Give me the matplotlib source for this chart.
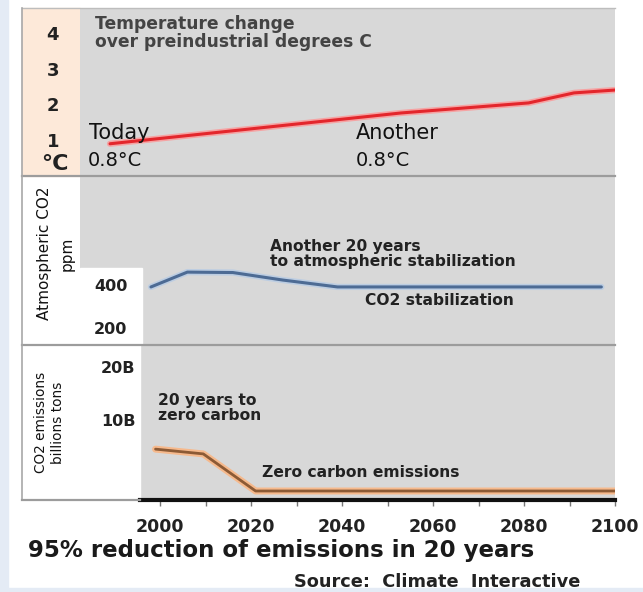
import matplotlib
matplotlib.use("Agg")
import matplotlib.pyplot as plt
from matplotlib.patches import Rectangle
from matplotlib.lines import Line2D

# values
temp_years = [1989, 2053, 2067, 2081, 2091, 2100]
temp_change = [0.9, 1.76, 1.9, 2.04, 2.32, 2.4]

co2_years = [1998, 2006, 2016, 2027, 2039, 2097]
co2_ppm = [391, 460, 458, 423, 391, 391]

emis_years = [1999, 2009.5, 2021, 2100]
emis_billion = [4.5, 3.6, -3.4, -3.4]

temp_ticks = [1, 2, 3, 4]
co2_ticks = [200, 400]
emis_ticks = [10, 20]
emis_ticklabels = ["10B", "20B"]
year_ticks = [2000, 2020, 2040, 2060, 2080, 2100]

W, H = 643, 592
GRAY = "#d8d8d8"
XLIM = (1982.4, 2100)


def box(x0, y0, x1, y1):
    # pixel box (from top-left) -> figure fraction rect
    return [x0 / W, 1 - y1 / H, (x1 - x0) / W, (y1 - y0) / H]


def style_ticklabels(labels, size):
    for lab in labels:
        lab.set_fontweight("bold")
        lab.set_fontsize(size)
        lab.set_color("#222222")


fig = plt.figure(figsize=(W / 100, H / 100), dpi=100, facecolor="white")

# light blue edge on the left and bottom of the screenshot
fig.patches.append(Rectangle((0, 0), 8 / W, 1, transform=fig.transFigure,
                             color="#e4ebf5", zorder=-1))
fig.patches.append(Rectangle((0, 0), 1, 4 / H, transform=fig.transFigure,
                             color="#e4ebf5", zorder=-1))
# peach strip behind the temperature scale
fig.patches.append(Rectangle((22 / W, 1 - 176 / H), 58 / W, 168 / H,
                             transform=fig.transFigure, color="#fde9d9", zorder=-1))

ax_t = fig.add_axes(box(80, 8, 615, 176), facecolor=GRAY)
ax_c = fig.add_axes(box(80, 176, 615, 345), facecolor=GRAY)
ax_e = fig.add_axes(box(80, 345, 615, 500), facecolor=GRAY)

for ax in (ax_t, ax_c, ax_e):
    ax.set_xlim(*XLIM)
    for s in ax.spines.values():
        s.set_visible(False)
    ax.tick_params(axis="y", length=0)
    ax.set_xticks([])

# --- temperature panel ---
ax_t.set_ylim(0, 4.69)
ax_t.plot(temp_years, temp_change, color="#f5a3a3", lw=4.5, solid_capstyle="round")
ax_t.plot(temp_years, temp_change, color="#e3262c", lw=2.2, solid_capstyle="round")
ax_t.set_yticks(temp_ticks)
ax_t.tick_params(axis="y", pad=15)
style_ticklabels(ax_t.get_yticklabels(), 13)
fig.text(55 / W, 1 - 164 / H, "°C", ha="center", va="center",
         fontsize=16, fontweight="bold", color="#222222")
ax_t.text(0.028, 0.96, "Temperature change\nover preindustrial degrees C",
          transform=ax_t.transAxes, ha="left", va="top", fontsize=12.3,
          fontweight="bold", color="#444444", linespacing=1.0)
ax_t.text(1984.4, 0.93, "Today", fontsize=15, color="#111111", ha="left", va="bottom")
ax_t.text(1984, 0.16, "0.8°C", fontsize=14, color="#111111", ha="left", va="bottom")
ax_t.text(2043, 0.93, "Another", fontsize=15, color="#111111", ha="left", va="bottom")
ax_t.text(2043, 0.16, "0.8°C", fontsize=14, color="#111111", ha="left", va="bottom")

# --- atmospheric CO2 panel ---
ax_c.set_ylim(121, 907)
ax_c.add_patch(Rectangle((0, 0), 62 / 535, 77 / 169, transform=ax_c.transAxes,
                         color="white", zorder=0.5))
ax_c.plot(co2_years, co2_ppm, color="#bccde2", lw=4.5, solid_capstyle="round")
ax_c.plot(co2_years, co2_ppm, color="#4d6b94", lw=2.2, solid_capstyle="round")
ax_c.set_yticks(co2_ticks)
ax_c.tick_params(axis="y", pad=-34)
style_ticklabels(ax_c.get_yticklabels(), 11.5)
ax_c.set_ylabel("Atmospheric CO2\nppm", fontsize=11, color="#111111", linespacing=1.6)
ax_c.yaxis.set_label_coords(-0.01, 0.54)
ax_c.text(2024.2, 544, "Another 20 years\nto atmospheric stabilization",
          fontsize=11.2, fontweight="bold", color="#222222", ha="left", va="center",
          linespacing=1.0)
ax_c.text(2045, 326, "CO2 stabilization", fontsize=11.2, fontweight="bold",
          color="#222222", ha="left", va="center")

# --- CO2 emissions panel ---
ax_e.set_ylim(-5.1, 24.15)
ax_e.add_patch(Rectangle((0, 0), 60 / 535, 1, transform=ax_e.transAxes,
                         color="white", zorder=0.5))
ax_e.plot(emis_years, emis_billion, color="#f6b98c", lw=5, solid_capstyle="round")
ax_e.plot(emis_years, emis_billion, color="#8c5a35", lw=2, solid_capstyle="round")
ax_e.set_yticks(emis_ticks, emis_ticklabels)
ax_e.tick_params(axis="y", pad=-40)
style_ticklabels(ax_e.get_yticklabels(), 11.5)
ax_e.set_ylabel("CO2 emissions\nbillions tons", fontsize=9.8, color="#111111", linespacing=1.3)
ax_e.yaxis.set_label_coords(-0.028, 0.5)
ax_e.text(1999.5, 12.3, "20 years to\nzero carbon", fontsize=11.2, fontweight="bold",
          color="#222222", ha="left", va="center", linespacing=1.0)
ax_e.text(2022.4, 0.0, "Zero carbon emissions", fontsize=11.2, fontweight="bold",
          color="#222222", ha="left", va="center")

ax_e.spines["bottom"].set_visible(True)
ax_e.spines["bottom"].set_color("#111111")
ax_e.spines["bottom"].set_linewidth(3)
ax_e.spines["bottom"].set_bounds(1995.6, 2100)
ax_e.set_xticks(year_ticks)
ax_e.set_xticks(range(2000, 2101, 10), minor=True)
ax_e.tick_params(axis="x", which="both", length=4, width=1, color="#777777", pad=9)
style_ticklabels(ax_e.get_xticklabels(), 12.5)

# panel frame and separators
frame = "#9c9c9c"
for y in (176, 345):
    fig.add_artist(Line2D([22 / W, 615 / W], [1 - y / H] * 2, color=frame, lw=1.6))
fig.add_artist(Line2D([22 / W, 615 / W], [1 - 8 / H] * 2, color="#bdbdbd", lw=1))
fig.add_artist(Line2D([22 / W] * 2, [1 - 8 / H, 1 - 500 / H], color="#a8a8a8", lw=1.2))
fig.add_artist(Line2D([22 / W, 140 / W], [1 - 500 / H] * 2, color=frame, lw=1.6))

fig.text(28 / W, 1 - 550 / H, "95% reduction of emissions in 20 years", ha="left",
         va="center", fontsize=16.5, fontweight="bold", color="#1a1a1a")
fig.text(580 / W, 1 - 582 / H, "Source:  Climate  Interactive", ha="right",
         va="center", fontsize=12.8, fontweight="bold", color="#222222")

fig.savefig("out.png", dpi=100, facecolor=fig.get_facecolor())
